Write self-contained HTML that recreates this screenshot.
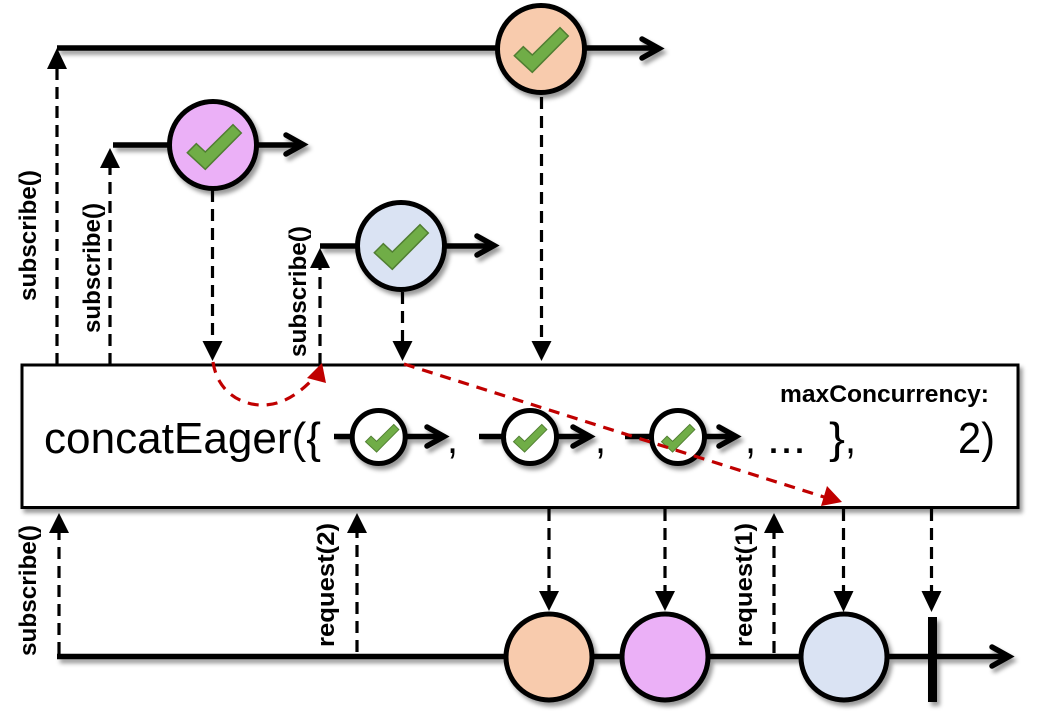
<!DOCTYPE html>
<html><head><meta charset="utf-8"><style>
html,body{margin:0;padding:0;background:#fff;width:1049px;height:719px;overflow:hidden}
svg{display:block}
text{font-family:"Liberation Sans",sans-serif;fill:#000}
.v{font-weight:bold;font-size:24px}
.t{font-size:44px}
.l{fill:none;stroke:#000;stroke-width:5.5}
.a{fill:none;stroke:#000;stroke-width:5.5;stroke-linecap:round;stroke-linejoin:miter}
.c{stroke:#000;stroke-width:5}
.d{fill:none;stroke:#000;stroke-width:3.2;stroke-dasharray:12 7}
.r{fill:none;stroke:#c00000;stroke-width:3.2;stroke-dasharray:11 8}
.k{fill:#70ad47;stroke:#507e32;stroke-width:1.5}
</style></head><body>
<svg width="1049" height="719" viewBox="0 0 1049 719" xmlns="http://www.w3.org/2000/svg">
<defs>
<filter id="sl" filterUnits="userSpaceOnUse" x="0" y="0" width="1049" height="719"><feDropShadow dx="3" dy="4" stdDeviation="2" flood-color="#000" flood-opacity="0.4"/></filter>
<polygon id="chk" points="27.3,-12 19,-20.3 -8.7,7 -17.7,-1.3 -26.7,7.7 -8.7,24.3"/>
</defs>

<!-- operator box -->
<rect x="22" y="365" width="996" height="142.5" fill="#fff" stroke="#000" stroke-width="3" filter="url(#sl)"/>

<!-- source 1 -->
<g filter="url(#sl)">
<path class="l" d="M57 48H658"/><path class="a" d="M642 39L659 48.500L642 58"/>
<circle class="c" cx="541" cy="49" r="43.5" fill="#f8cbad"/>
</g>
<use href="#chk" class="k" transform="translate(541,48)"/>

<!-- source 2 -->
<g filter="url(#sl)">
<path class="l" d="M113 145H302"/><path class="a" d="M286 135L303 144.500L286 154"/>
<circle class="c" cx="213" cy="145" r="43.5" fill="#ebb0f7"/>
</g>
<use href="#chk" class="k" transform="translate(214,145)"/>

<!-- source 3 -->
<g filter="url(#sl)">
<path class="l" d="M320 246H493"/><path class="a" d="M477 236L494 245.500L477 255"/>
<circle class="c" cx="401" cy="246" r="43.5" fill="#dae3f3"/>
</g>
<use href="#chk" class="k" transform="translate(401,245)"/>

<!-- dashed up/down, upper -->
<path class="d" d="M57 365V68"/><polygon points="57,48 47,69 67,69"/>
<path class="d" d="M110 365V166"/><polygon points="110,148 100,168 120,168"/>
<path class="d" d="M320 365V266"/><polygon points="320,248 310,268 330,268"/>
<path class="d" d="M212.500 190V343"/><polygon points="212.500,361 202.500,341 222.500,341"/>
<path class="d" d="M402.500 292V343"/><polygon points="402.500,361 392.500,341 412.500,341"/>
<path class="d" d="M541.500 97V343"/><polygon points="541.500,361 531.500,341 551.500,341"/>

<!-- bottom line -->
<g filter="url(#sl)">
<path class="l" d="M57 656.500H1008"/><path class="a" d="M992 647L1009 656.500L992 666"/>
<circle class="c" cx="549" cy="657" r="43" fill="#f8cbad"/>
<circle class="c" cx="665" cy="657" r="43" fill="#ebb0f7"/>
<circle class="c" cx="844" cy="657" r="43" fill="#dae3f3"/>
<rect x="928" y="617" width="9" height="85" fill="#000"/>
</g>

<!-- dashed lower -->
<path class="d" d="M59 654V532"/><polygon points="59,513 49,533 69,533"/>
<path class="d" d="M357 652V532"/><polygon points="357,513 347,533 367,533"/>
<path class="d" d="M774 653V532"/><polygon points="774,513 764,533 784,533"/>
<path class="d" d="M549 509V592"/><polygon points="549,611 539,591 559,591"/>
<path class="d" d="M665 509V592"/><polygon points="665,611 655,591 675,591"/>
<path class="d" d="M843.500 509V592"/><polygon points="843.500,612 833.500,591 853.500,591"/>
<path class="d" d="M931.500 509V592"/><polygon points="931.500,612 921.500,591 941.500,591"/>

<!-- box text -->
<text class="t" x="44" y="453" textLength="277" lengthAdjust="spacingAndGlyphs">concatEager({</text>
<text class="t" x="447" y="453" textLength="11" lengthAdjust="spacingAndGlyphs">,</text>
<text class="t" x="595" y="453" textLength="11" lengthAdjust="spacingAndGlyphs">,</text>
<text class="t" x="745" y="453" textLength="11" lengthAdjust="spacingAndGlyphs">,</text>
<text class="t" x="767" y="453" textLength="39" lengthAdjust="spacingAndGlyphs">...</text>
<text class="t" x="829" y="453" textLength="16" lengthAdjust="spacingAndGlyphs">}</text>
<text class="t" x="845" y="453" textLength="11" lengthAdjust="spacingAndGlyphs">,</text>
<text class="t" x="958" y="453" textLength="37" lengthAdjust="spacingAndGlyphs">2)</text>
<text x="780" y="402" font-size="24" font-weight="bold" textLength="209" lengthAdjust="spacingAndGlyphs">maxConcurrency:</text>

<!-- inner marbles -->
<g filter="url(#sl)">
<path class="l" d="M334 436.500H443"/><path class="a" d="M427 427L444 436.500L427 446"/>
<circle class="c" cx="378.700" cy="437" r="26.500" fill="#fff"/>
<path class="l" d="M479 436.500H589"/><path class="a" d="M573 427L590 436.500L573 446"/>
<circle class="c" cx="530" cy="437" r="26.500" fill="#fff"/>
<path class="l" d="M625 436.500H735"/><path class="a" d="M719 427L736 436.500L719 446"/>
<circle class="c" cx="678" cy="437" r="26.500" fill="#fff"/>
</g>
<use href="#chk" class="k" transform="translate(382,437) scale(.62)"/>
<use href="#chk" class="k" transform="translate(530,437) scale(.62)"/>
<use href="#chk" class="k" transform="translate(678,437) scale(.62)"/>

<!-- red connectors -->
<path class="r" d="M213 362C218 395 245 406 265 405C285 404 300 392 312 380"/>
<polygon points="322,363 307,378 326,383" fill="#c00000"/>
<path class="r" d="M404 364L824 497"/>
<polygon points="842,502 821,506 827,486" fill="#c00000"/>

<!-- rotated labels -->
<text class="v" transform="translate(36,301) rotate(-90)" textLength="131" lengthAdjust="spacingAndGlyphs">subscribe()</text>
<text class="v" transform="translate(100,333) rotate(-90)" textLength="130" lengthAdjust="spacingAndGlyphs">subscribe()</text>
<text class="v" transform="translate(306,357) rotate(-90)" textLength="131" lengthAdjust="spacingAndGlyphs">subscribe()</text>
<text class="v" transform="translate(36,656) rotate(-90)" textLength="131" lengthAdjust="spacingAndGlyphs">subscribe()</text>
<text class="v" transform="translate(334,647) rotate(-90)" textLength="124" lengthAdjust="spacingAndGlyphs">request(2)</text>
<text class="v" transform="translate(752,647) rotate(-90)" textLength="124" lengthAdjust="spacingAndGlyphs">request(1)</text>
</svg>
</body></html>
